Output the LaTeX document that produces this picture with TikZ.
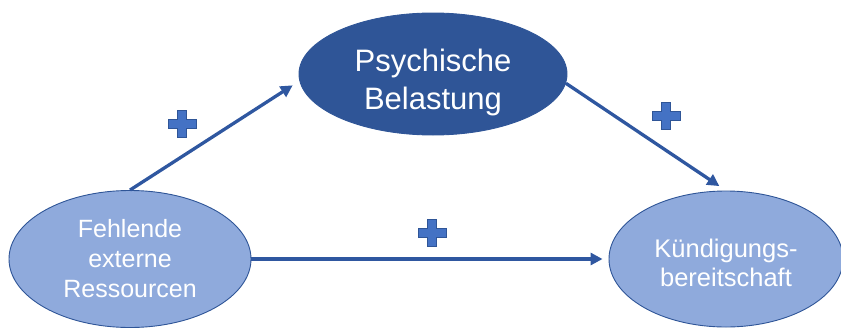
\documentclass[tikz,border=0pt]{standalone}
\usepackage{fontspec}
\setmainfont{Liberation Sans}
\usepackage{tikz}
\usetikzlibrary{shapes.geometric, arrows.meta}
\definecolor{darkblock}{RGB}{47, 85, 151}
\definecolor{lightblock}{RGB}{143, 170, 220}
\definecolor{plusblock}{RGB}{68, 114, 196}
\definecolor{linkline}{RGB}{47, 87, 160}

\tikzset{
	factor/.style={ellipse, draw=darkblock, line width=0.9pt, fill=lightblock,
		text=white, inner sep=0pt, align=center},
	link/.style={draw=linkline, line width=3.3pt,
		-{Triangle[length=12pt,width=12pt]}},
	plusmark/.style={fill=plusblock, draw=darkblock, line width=0.6pt},
}

% plus sign centred at (#1,#2)
\newcommand{\plussign}[2]{%
	\filldraw[plusmark] (#1,#2) ++(-4.5,-13.5) -- ++(9,0) -- ++(0,9) -- ++(9.5,0)
		-- ++(0,9) -- ++(-9.5,0) -- ++(0,9) -- ++(-9,0) -- ++(0,-9) -- ++(-9.5,0)
		-- ++(0,-9) -- ++(9.5,0) -- cycle;}

\begin{document}
\begin{tikzpicture}[x=1pt, y=-1pt]
			\useasboundingbox (0,0) rectangle (841,327);
			
			% the three factors
			\node[factor, minimum width=242pt, minimum height=137pt,
				font=\fontsize{25}{30}\selectfont] (fer) at (130,259)
				{Fehlende\\externe\\Ressourcen};
			\node[factor, fill=darkblock, minimum width=268pt, minimum height=122pt,
				font=\fontsize{31}{38}\selectfont] (pb) at (433,74)
				{\rule{0pt}{40pt}Psychische\\Belastung};
			\node[factor, minimum width=234pt, minimum height=136pt,
				font=\fontsize{25.5}{29}\selectfont] (kb) at (726,259)
				{\rule{0pt}{27pt}Kündigungs-\\bereitschaft};
			
			% effects
			\draw[link, shorten >=8pt] (fer.north) -- (pb.183);
			\draw[link, shorten >=8pt] (pb.-4) -- (kb.north);
			\draw[link, shorten >=6pt] (fer.east) -- (kb.west);
			
			% signs
			\plussign{182}{124}
			\plussign{666}{116}
			\plussign{432}{233}

		\end{tikzpicture}
\end{document}
